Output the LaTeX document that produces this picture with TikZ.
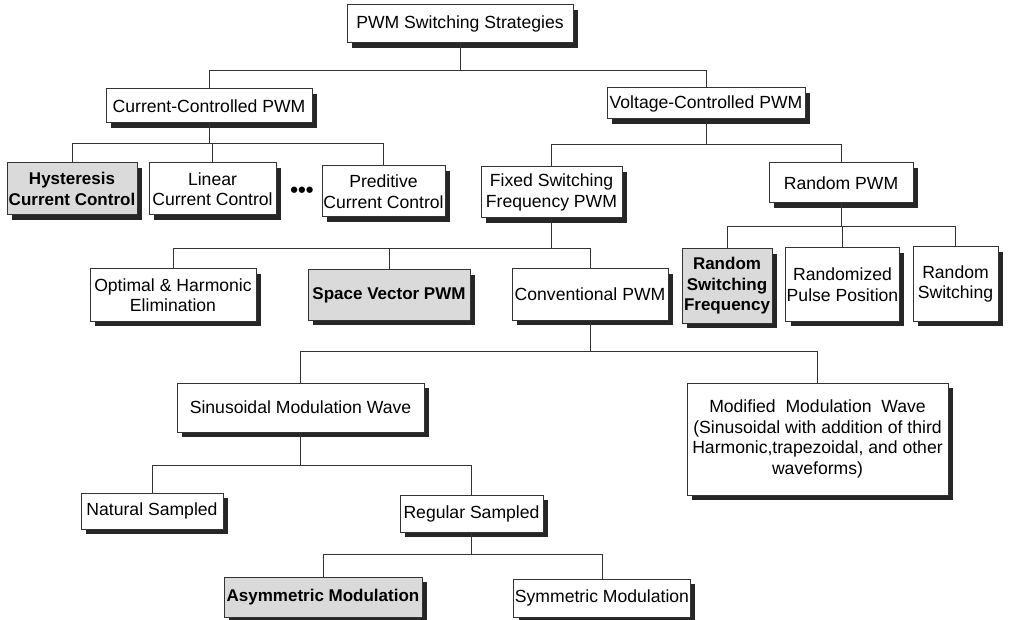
\documentclass[tikz,border=0pt]{standalone}
\usepackage{fontspec}
\setmainfont{Liberation Sans}
\usetikzlibrary{positioning,shadows}
\definecolor{MyGray}{HTML}{DADADA}
\definecolor{MyLine}{HTML}{333333}

\begin{document}
\begin{tikzpicture}[x=1pt,y=-1pt,
			every node/.style={align=center,rectangle,font=\fontsize{17.6}{20.5}\selectfont},
			box/.style={draw=MyLine,line width=1pt,fill=white,inner sep=1pt,
				drop shadow={shadow xshift=5pt,shadow yshift=-5pt,fill=black!85,opacity=1}},
			hl/.style={box,fill=MyGray,font=\fontsize{17}{20.5}\selectfont\bfseries},
			link/.style={draw=MyLine,line width=0.8pt}
		]
		\useasboundingbox (0,0) rectangle (1033,620);

		\node [box,minimum width=226pt,minimum height=38pt] (pwm) at (460,24) {PWM Switching Strategies};

		\node [box,minimum width=206pt,minimum height=34pt] (cur) at (209,106) {Current-Controlled PWM};
		\node [box,minimum width=198pt,minimum height=31pt] (volt) at (706,103.5) {Voltage-Controlled PWM};

		\node [hl,minimum width=130pt,minimum height=52pt] (hyst) at (72,189) {Hysteresis \\ Current Control};
		\node [box,minimum width=127pt,minimum height=52pt] (lin) at (212.5,189) {Linear \\ Current Control};
		\node [font=\fontsize{22}{22}\selectfont\bfseries,inner sep=0pt] (dots) at (302,192) {•••};
		\node [box,minimum width=123pt,minimum height=51pt] (pred) at (383.5,191.5) {Preditive \\ Current Control};
		\node [box,minimum width=141pt,minimum height=51pt] (fixed) at (551.5,192.5) {Fixed Switching \\ Frequency PWM};
		\node [box,minimum width=144pt,minimum height=40pt] (rand) at (841,183) {Random PWM};

		\node [box,minimum width=166pt,minimum height=52pt] (opt) at (173,295) {Optimal \& Harmonic \\ Elimination};
		\node [hl,minimum width=162pt,minimum height=50pt] (svpwm) at (389,295) {Space Vector PWM};
		\node [box,minimum width=156pt,minimum height=51pt] (conv) at (590,294.5) {Conventional PWM};
		\node [hl,minimum width=90pt,minimum height=74pt] (rsf) at (727,286) {Random \\ Switching \\ Frequency};
		\node [box,minimum width=111pt,minimum height=73pt] (rpp) at (842.5,284.5) {Randomized \\ Pulse Position};
		\node [box,minimum width=85pt,minimum height=74pt] (rsw) at (955.5,284) {Random \\ Switching};

		\node [box,minimum width=247pt,minimum height=49pt] (sin) at (300.5,407.5) {Sinusoidal Modulation Wave};
		\node [box,minimum width=261pt,minimum height=112pt] (mod) at (817.5,439) {
			Modified~ Modulation~ Wave \\
			(Sinusoidal with addition of third \\
			Harmonic,trapezoidal, and other \\
			waveforms)
		};

		\node [box,minimum width=142pt,minimum height=36pt] (nat) at (152,511) {Natural Sampled};
		\node [box,minimum width=143pt,minimum height=37pt] (reg) at (471.5,513.5) {Regular Sampled};

		\node [hl,minimum width=198pt,minimum height=40pt] (asym) at (323,597) {Asymmetric Modulation};
		\node [box,minimum width=174pt,minimum height=38pt] (sym) at (602,598) {Symmetric Modulation};

		% tree links
		\foreach \c in {cur,volt} \path[link] (pwm.south) -- ++(0,27) -| (\c.north);
		\foreach \c in {hyst,lin,pred} \path[link] (cur.south) -- ++(0,20) -| (\c.north);
		\foreach \c in {fixed,rand} \path[link] (volt.south) -- ++(0,25) -| (\c.north);
		\foreach \c in {opt,svpwm,conv} \path[link] (fixed.south) -- ++(0,30) -| (\c.north);
		\foreach \c in {rsf,rpp,rsw} \path[link] (rand.south) -- ++(0,23) -| (\c.north);
		\foreach \c in {sin,mod} \path[link] (conv.south) -- ++(0,31) -| (\c.north);
		\foreach \c in {nat,reg} \path[link] (sin.south) -- ++(0,33) -| (\c.north);
		\foreach \c in {asym,sym} \path[link] (reg.south) -- ++(0,22) -| (\c.north);
	\end{tikzpicture}
\end{document}
